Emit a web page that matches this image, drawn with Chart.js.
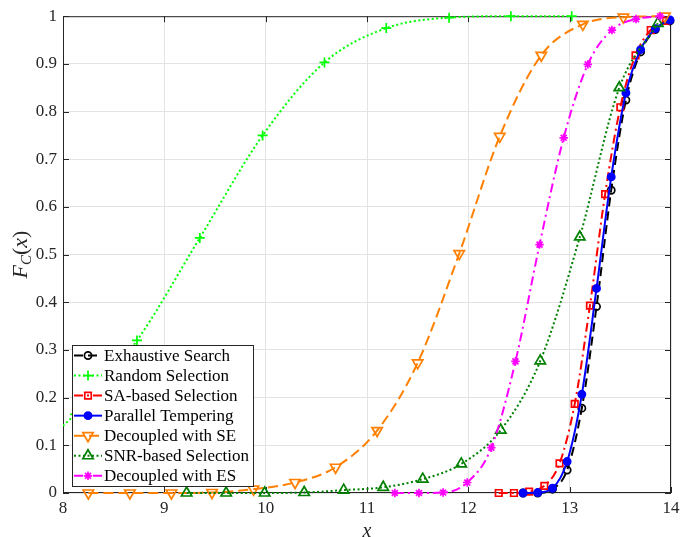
<!DOCTYPE html>
<html><head><meta charset="utf-8">
<script src="https://cdn.jsdelivr.net/npm/chart.js@4.4.0/dist/chart.umd.min.js"></script>
<style>html,body{margin:0;padding:0;background:#fff;overflow:hidden}</style>
</head><body>
<canvas id="c" width="691" height="537"></canvas>
<script>
// ---- data ----
const xTicks = [8, 9, 10, 11, 12, 13, 14];
const yTicks = [0, 0.1, 0.2, 0.3, 0.4, 0.5, 0.6, 0.7, 0.8, 0.9, 1];
const seriesNames = ["Exhaustive Search", "Random Selection", "SA-based Selection", "Parallel Tempering", "Decoupled with SE", "SNR-based Selection", "Decoupled with ES"];

const exhaustiveX = [12.54, 12.685, 12.83, 12.975, 13.12, 13.265, 13.41, 13.555, 13.70, 13.845, 13.99];
const exhaustiveY = [0, 0, 0.008, 0.048, 0.178, 0.391, 0.635, 0.824, 0.925, 0.972, 0.99];
const randomX = [7.51, 8.12, 8.73, 9.35, 9.97, 10.58, 11.19, 11.81, 12.42, 13.02];
const randomY = [0.06, 0.165, 0.32, 0.535, 0.75, 0.903, 0.975, 0.997, 1.0, 1.0];
const saX = [12.30, 12.45, 12.60, 12.75, 12.90, 13.05, 13.20, 13.35, 13.50, 13.65, 13.80, 13.95];
const saY = [0, 0, 0.003, 0.015, 0.062, 0.187, 0.393, 0.627, 0.809, 0.918, 0.971, 0.99];
const ptX = [12.54, 12.685, 12.83, 12.975, 13.12, 13.265, 13.41, 13.555, 13.70, 13.845, 13.99];
const ptY = [0, 0.001, 0.01, 0.066, 0.207, 0.429, 0.663, 0.839, 0.93, 0.974, 0.992];
const seX = [8.25, 8.66, 9.07, 9.47, 9.88, 10.29, 10.69, 11.10, 11.50, 11.91, 12.31, 12.72, 13.13, 13.53, 13.94];
const seY = [0, 0, 0, 0.001, 0.008, 0.022, 0.054, 0.131, 0.273, 0.502, 0.748, 0.918, 0.983, 0.998, 1.0];
const snrX = [9.22, 9.61, 9.99, 10.38, 10.77, 11.16, 11.55, 11.93, 12.32, 12.71, 13.10, 13.49, 13.87];
const snrY = [0, 0, 0, 0.001, 0.006, 0.012, 0.029, 0.061, 0.132, 0.277, 0.537, 0.85, 0.985];
const esX = [11.275, 11.513, 11.751, 11.989, 12.227, 12.465, 12.703, 12.941, 13.179, 13.417, 13.655, 13.893];
const esY = [0, 0, 0.001, 0.022, 0.095, 0.276, 0.521, 0.745, 0.899, 0.971, 0.994, 1.0];

// ---- styles ----
const styles = [
  {color:'#000000', dash:[9,5],       marker:'circle',   r:3.6, fill:'rgba(0,0,0,0)', rot:0},
  {color:'#00ff00', dash:[2,2.5],     marker:'cross',    r:5,   fill:'rgba(0,0,0,0)', rot:0},
  {color:'#ff0000', dash:[9,4,2,4],   marker:'rect',     r:4.6, fill:'rgba(0,0,0,0)', rot:0},
  {color:'#0000ff', dash:[],          marker:'circle',   r:3.6, fill:'#0000ff',       rot:0},
  {color:'#ff8000', dash:[10,5],      marker:'triangle', r:6,   fill:'rgba(0,0,0,0)', rot:180},
  {color:'#008000', dash:[2,2.5],     marker:'triangle', r:6,   fill:'rgba(0,0,0,0)', rot:0},
  {color:'#ff00ff', dash:[9,4,2,4],   marker:'star',     r:4.2, fill:'rgba(0,0,0,0)', rot:0}
];
const xs = [exhaustiveX, randomX, saX, ptX, seX, snrX, esX];
const ys = [exhaustiveY, randomY, saY, ptY, seY, snrY, esY];

const datasets = seriesNames.map((name, i) => ({
  label: name,
  data: xs[i].map((x, k) => ({x: x, y: ys[i][k]})),
  borderColor: styles[i].color,
  backgroundColor: styles[i].fill,
  pointBackgroundColor: styles[i].fill,
  pointBorderColor: styles[i].color,
  borderWidth: 2,
  borderDash: styles[i].dash,
  pointStyle: styles[i].marker,
  pointRadius: styles[i].r,
  pointRotation: styles[i].rot,
  pointBorderWidth: 1.7,
  pointHoverRadius: styles[i].r,
  cubicInterpolationMode: 'monotone',
  fill: false,
  order: seriesNames.length - i,
  clip: i === 1 ? {left: 0, top: false, right: false, bottom: false} : false
}));

const AX = '#262626';
const FONT = 'Liberation Serif';

function drawMarker(ctx, st, x, y) {
  ctx.save();
  ctx.setLineDash([]);
  ctx.lineWidth = 1.7;
  ctx.strokeStyle = st.color;
  ctx.fillStyle = st.fill;
  const r = st.r;
  ctx.beginPath();
  if (st.marker === 'circle') {
    ctx.arc(x, y, r, 0, Math.PI * 2);
  } else if (st.marker === 'rect') {
    const s = r * Math.SQRT1_2;
    ctx.rect(x - s, y - s, 2 * s, 2 * s);
  } else if (st.marker === 'triangle') {
    let a = st.rot * Math.PI / 180;
    for (let k = 0; k < 3; k++) {
      const px = x + Math.sin(a) * r, py = y - Math.cos(a) * r;
      if (k === 0) ctx.moveTo(px, py); else ctx.lineTo(px, py);
      a += 2 * Math.PI / 3;
    }
    ctx.closePath();
  } else if (st.marker === 'cross') {
    ctx.moveTo(x - r, y); ctx.lineTo(x + r, y);
    ctx.moveTo(x, y - r); ctx.lineTo(x, y + r);
  } else if (st.marker === 'star') {
    ctx.moveTo(x - r, y); ctx.lineTo(x + r, y);
    ctx.moveTo(x, y - r); ctx.lineTo(x, y + r);
    const d = r * Math.SQRT1_2;
    ctx.moveTo(x - d, y - d); ctx.lineTo(x + d, y + d);
    ctx.moveTo(x - d, y + d); ctx.lineTo(x + d, y - d);
  }
  ctx.fill();
  ctx.stroke();
  ctx.restore();
}

const framePlugin = {
  id: 'frame',
  beforeDatasetsDraw(chart) {
    const {ctx, chartArea: a, scales} = chart;
    ctx.save();
    ctx.strokeStyle = AX;
    ctx.lineWidth = 1;
    ctx.setLineDash([]);
    ctx.strokeRect(a.left + 0.5, a.top + 0.5, a.right - a.left - 1, a.bottom - a.top - 1);
    const tl = 6;
    ctx.beginPath();
    xTicks.forEach(v => {
      const px = Math.round(scales.x.getPixelForValue(v)) + 0.5;
      ctx.moveTo(px, a.bottom); ctx.lineTo(px, a.bottom - tl);
      ctx.moveTo(px, a.top); ctx.lineTo(px, a.top + tl);
    });
    yTicks.forEach(v => {
      const py = Math.round(scales.y.getPixelForValue(v)) + 0.5;
      ctx.moveTo(a.left, py); ctx.lineTo(a.left + tl, py);
      ctx.moveTo(a.right, py); ctx.lineTo(a.right - tl, py);
    });
    ctx.stroke();
    ctx.restore();
  },
  afterDraw(chart) {
    const {ctx, chartArea: a} = chart;
    ctx.save();
    // axis titles
    ctx.fillStyle = AX;
    ctx.textBaseline = 'alphabetic';
    ctx.textAlign = 'center';
    ctx.font = 'italic 20px ' + FONT;
    ctx.fillText('x', (a.left + a.right) / 2, 537);
    // y title F_C(x)
    ctx.save();
    ctx.translate(27, (a.top + a.bottom) / 2);
    ctx.rotate(-Math.PI / 2);
    const parts = [
      {t: 'F', f: 'italic 22px ' + FONT, dy: 0},
      {t: 'C', f: 'italic 15px ' + FONT, dy: 4},
      {t: '(', f: '22px ' + FONT, dy: 0},
      {t: 'x', f: 'italic 22px ' + FONT, dy: 0},
      {t: ')', f: '22px ' + FONT, dy: 0}
    ];
    let tw = 0;
    parts.forEach(p => { ctx.font = p.f; p.w = ctx.measureText(p.t).width; tw += p.w; });
    let cx = -tw / 2;
    ctx.textAlign = 'left';
    parts.forEach(p => { ctx.font = p.f; ctx.fillText(p.t, cx, p.dy); cx += p.w; });
    ctx.restore();

    // legend
    const L = {x: 72, y: 345, w: 181, h: 141};
    ctx.fillStyle = '#ffffff';
    ctx.fillRect(L.x, L.y, L.w, L.h);
    ctx.strokeStyle = AX;
    ctx.lineWidth = 1;
    ctx.setLineDash([]);
    ctx.strokeRect(L.x + 0.5, L.y + 0.5, L.w, L.h);
    seriesNames.forEach((name, i) => {
      const st = styles[i];
      const yy = 355.5 + i * 20.05;
      ctx.save();
      ctx.strokeStyle = st.color;
      ctx.lineWidth = 2;
      ctx.setLineDash(st.dash);
      ctx.beginPath();
      ctx.moveTo(74, yy); ctx.lineTo(102, yy);
      ctx.stroke();
      ctx.restore();
      drawMarker(ctx, st, 88, yy);
      ctx.fillStyle = '#000';
      ctx.font = '17px ' + FONT;
      ctx.textAlign = 'left';
      ctx.textBaseline = 'middle';
      ctx.fillText(name, 104, yy + 1);
    });
    ctx.restore();
  }
};

new Chart(document.getElementById('c'), {
  type: 'line',
  data: {datasets: datasets},
  options: {
    responsive: false,
    animation: false,
    devicePixelRatio: 1,
    layout: {padding: {top: 16, right: 20, left: 0, bottom: 0}},
    plugins: {legend: {display: false}, tooltip: {enabled: false}},
    elements: {line: {tension: 0}},
    scales: {
      x: {
        type: 'linear', min: 8, max: 14,
        afterBuildTicks: s => { s.ticks = xTicks.map(v => ({value: v})); },
        ticks: {color: AX, font: {family: FONT, size: 17}, padding: 5, maxRotation: 0,
                callback: v => String(v)},
        grid: {color: '#e3e3e3', lineWidth: 1, drawTicks: false},
        border: {display: false},
        afterFit: s => { s.height = 44; }
      },
      y: {
        type: 'linear', min: 0, max: 1,
        afterBuildTicks: s => { s.ticks = yTicks.map(v => ({value: v})); },
        ticks: {color: AX, font: {family: FONT, size: 17}, padding: 6,
                callback: v => String(Math.round(v * 10) / 10)},
        grid: {color: '#e3e3e3', lineWidth: 1, drawTicks: false},
        border: {display: false},
        afterFit: s => { s.width = 63; }
      }
    }
  },
  plugins: [framePlugin]
});
</script>
</body></html>
